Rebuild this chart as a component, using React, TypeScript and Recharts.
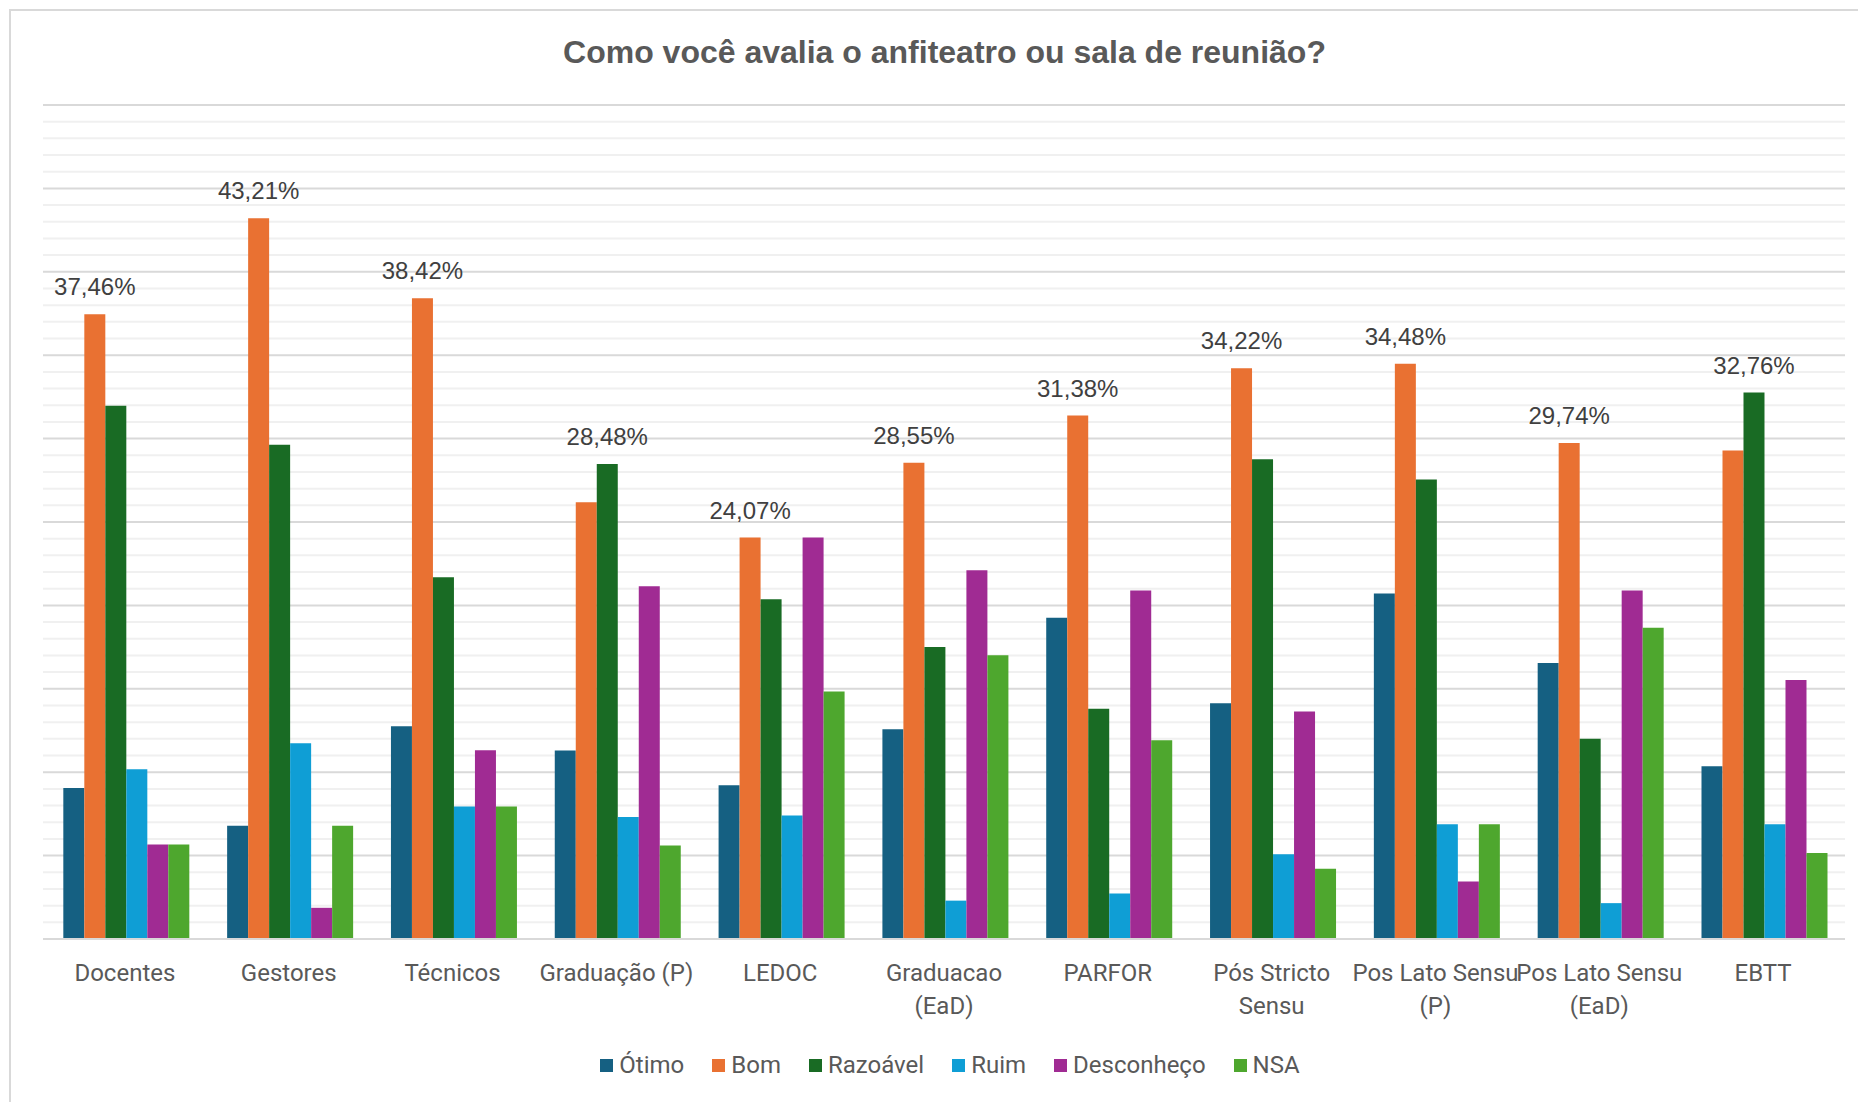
import { Bar, BarChart, CartesianGrid, LabelList, Legend, XAxis, YAxis } from "recharts"

const categories = [
  "Docentes",
  "Gestores",
  "Técnicos",
  "Graduação (P)",
  "LEDOC",
  "Graduacao (EaD)",
  "PARFOR",
  "Pós Stricto Sensu",
  "Pos Lato Sensu (P)",
  "Pos Lato Sensu (EaD)",
  "EBTT",
]

// how the category names break on the axis
const tickLines = [
  ["Docentes"],
  ["Gestores"],
  ["Técnicos"],
  ["Graduação (P)"],
  ["LEDOC"],
  ["Graduacao", "(EaD)"],
  ["PARFOR"],
  ["Pós Stricto", "Sensu"],
  ["Pos Lato Sensu", "(P)"],
  ["Pos Lato Sensu", "(EaD)"],
  ["EBTT"],
]

const otimo = [9.05, 6.79, 12.75, 11.3, 9.22, 12.58, 19.26, 14.14, 20.72, 16.55, 10.35]
const bom = [37.46, 43.21, 38.42, 26.18, 24.07, 28.55, 31.38, 34.22, 34.48, 29.74, 29.28]
const razoavel = [31.97, 29.63, 21.69, 28.48, 20.37, 17.51, 13.8, 28.76, 27.55, 12.0, 32.76]
const ruim = [10.17, 11.74, 7.94, 7.31, 7.4, 2.3, 2.73, 5.08, 6.88, 2.15, 6.88]
const desconheco = [5.66, 1.87, 11.32, 21.15, 24.07, 22.1, 20.89, 13.64, 3.45, 20.89, 15.53]
const nsa = [5.66, 6.79, 7.94, 5.6, 14.84, 17.01, 11.91, 4.21, 6.88, 18.66, 5.16]

const series = [
  { key: "otimo", name: "Ótimo", color: "#156082", values: otimo },
  { key: "bom", name: "Bom", color: "#E97132", values: bom },
  { key: "razoavel", name: "Razoável", color: "#196B24", values: razoavel },
  { key: "ruim", name: "Ruim", color: "#0F9ED5", values: ruim },
  { key: "desconheco", name: "Desconheço", color: "#A02B93", values: desconheco },
  { key: "nsa", name: "NSA", color: "#4EA72E", values: nsa },
]

const data = categories.map((name, i) => {
  const row: any = { name }
  series.forEach((s) => (row[s.key] = s.values[i]))
  return row
})

// only the tallest bar of each group gets its value printed
const labelOwner = categories.map((_, i) => {
  let best = series[0]
  series.forEach((s) => {
    if (s.values[i] > best.values[i]) best = s
  })
  return best.key
})

const yTicks = Array.from({ length: 51 }, (_, i) => i)

const fmt = (v: number) => v.toFixed(2).replace(".", ",") + "%"

const axisFont = "Roboto, 'Noto Sans', sans-serif"
const labelFont = "'Liberation Sans', Arial, sans-serif"

function CategoryTick(props: any) {
  const { x, y, index } = props
  const lines = tickLines[index] || [props.payload.value]
  return (
    <text x={x} y={y + 42} textAnchor="middle" fill="#595959" fontSize={24} fontFamily={axisFont}>
      {lines.map((l: string, i: number) => (
        <tspan key={i} x={x} dy={i === 0 ? 0 : 33}>
          {l}
        </tspan>
      ))}
    </text>
  )
}

function GridLine(props: any) {
  const { x1, x2, y1, y2, index } = props
  const major = index % 5 === 0
  return (
    <line
      key={`g-${index}`}
      x1={x1}
      x2={x2}
      y1={y1}
      y2={y2}
      stroke={major ? "#d9d9d9" : "#f0f0f0"}
      strokeWidth={2}
    />
  )
}

function LegendBox() {
  return (
    <div
      style={{
        display: "flex",
        justifyContent: "center",
        gap: 28,
        fontFamily: axisFont,
        fontSize: 24,
        lineHeight: "28px",
        color: "#595959",
      }}
    >
      {series.map((s) => (
        <div key={s.key} style={{ display: "flex", alignItems: "center" }}>
          <span style={{ width: 13, height: 13, background: s.color, marginRight: 6, display: "inline-block" }} />
          <span>{s.name}</span>
        </div>
      ))}
    </div>
  )
}

export default function App() {
  return (
    <div style={{ position: "absolute", left: 0, top: 0, width: 1858, height: 1102, background: "#fff", overflow: "hidden" }}>
      <div
        style={{
          position: "absolute",
          left: 9,
          top: 9,
          width: 1900,
          height: 1200,
          border: "2px solid #d9d9d9",
          boxSizing: "border-box",
        }}
      />
      <div
        style={{
          position: "absolute",
          left: 0,
          top: 36,
          width: 1889,
          textAlign: "center",
          fontFamily: labelFont,
          fontWeight: "bold",
          fontSize: 32,
          lineHeight: "32px",
          color: "#595959",
        }}
      >
        Como você avalia o anfiteatro ou sala de reunião?
      </div>
      <div style={{ position: "absolute", left: 0, top: 0 }}>
        <BarChart
          width={1858}
          height={1102}
          data={data}
          margin={{ top: 105, right: 13, bottom: 83, left: 43 }}
          barGap={0}
          barCategoryGap="12.4%"
        >
          <CartesianGrid vertical={false} horizontal={GridLine} />
          <YAxis hide domain={[0, 50]} ticks={yTicks} interval={0} type="number" />
          <XAxis
            dataKey="name"
            interval={0}
            height={80}
            tickLine={false}
            tickSize={0}
            tickMargin={0}
            axisLine={{ stroke: "#d9d9d9", strokeWidth: 2 }}
            tick={<CategoryTick />}
          />
          <Legend
            layout="horizontal"
            verticalAlign="middle"
            align="center"
            content={<LegendBox />}
            wrapperStyle={{ top: 1051, left: 0, width: 1900, height: 28 }}
          />
          {series.map((s) => (
            <Bar key={s.key} dataKey={s.key} name={s.name} fill={s.color} isAnimationActive={false}>
              <LabelList
                dataKey={s.key}
                content={(p: any) =>
                  labelOwner[p.index] === s.key ? (
                    <text
                      x={p.x + p.width / 2}
                      y={p.y - 19}
                      textAnchor="middle"
                      fill="#404040"
                      fontSize={24}
                      fontFamily={labelFont}
                    >
                      {fmt(p.value)}
                    </text>
                  ) : null
                }
              />
            </Bar>
          ))}
        </BarChart>
      </div>
    </div>
  )
}
